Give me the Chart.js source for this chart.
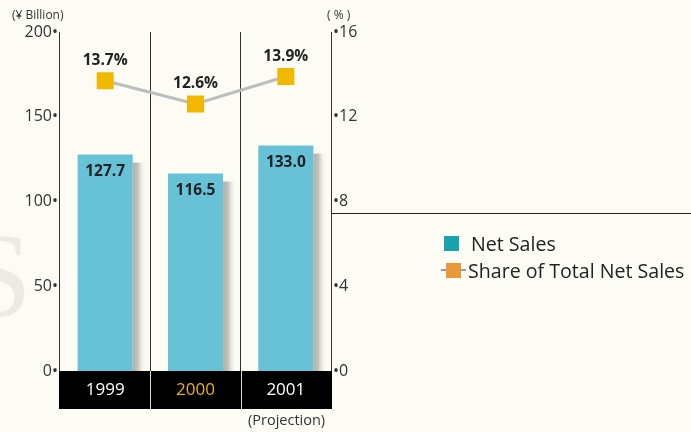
<!DOCTYPE html>
<html>
<head>
<meta charset="utf-8">
<script src="https://cdn.jsdelivr.net/npm/chart.js@4.4.0/dist/chart.umd.min.js"></script>
<style>
  body { margin: 0; background: #fcfcf5; font-family: "Open Sans", sans-serif; }
  #wrap { position: relative; width: 691px; height: 432px; overflow: hidden; }
  #wrap canvas { position: absolute; left: 0; top: 0; }
  .txt { position: absolute; color: #333; white-space: nowrap; }
  .legend { position: absolute; left: 441px; top: 230px; font-size: 19.6px; color: #222; }
  .legend div { position: relative; height: 27px; line-height: 27px; }
  .sw { position: absolute; top: 6px; width: 15px; height: 15px; }
</style>
</head>
<body>
<div id="wrap">
  <div class="txt" style="left:-35px;top:216px;font-family:'Liberation Serif',serif;font-size:120px;color:#ecebe3;line-height:1;">S</div>
  <canvas id="chart" width="691" height="432"></canvas>
  <div class="txt" style="left:12px;top:6px;font-size:12px;">(¥ Billion)</div>
  <div class="txt" style="left:327px;top:6px;font-size:12px;">( % )</div>
  <div class="txt" style="left:248px;top:410px;font-size:14.5px;">(Projection)</div>
  <div style="position:absolute;left:331px;top:213px;width:360px;height:1px;background:#222;"></div>
  <div class="legend">
    <div style="padding-left:30px;"><span class="sw" style="left:3px;background:#1ba3ad;"></span>Net Sales</div>
    <div style="padding-left:27px;"><span style="position:absolute;left:0;top:12px;width:25px;height:2px;background:#999;"></span><span class="sw" style="left:5px;background:#ea963a;"></span>Share of Total Net Sales</div>
  </div>
</div>
<script>
const years = ["1999", "2000", "2001"];
const netSales = [127.7, 116.5, 133.0];
const shareOfTotal = [13.7, 12.6, 13.9];
const yearColors = ["#ffffff", "#e9b400", "#ffffff"];

// black band under the plot, value labels and bar shadows
const decor = {
  id: "decor",
  beforeDatasetsDraw(chart) {
    const { ctx, chartArea } = chart;
    const bars = chart.getDatasetMeta(1).data;
    ctx.save();
    bars.forEach(b => {
      const x = b.x + b.width / 2;
      const g = ctx.createLinearGradient(x, 0, x + 13, 0);
      g.addColorStop(0, "#b0afaa");
      g.addColorStop(0.4, "#c4c3bd");
      g.addColorStop(1, "rgba(252,252,245,0)");
      ctx.fillStyle = g;
      ctx.fillRect(x, b.y + 8, 13, chartArea.bottom - b.y - 8);
    });
    ctx.restore();
  },
  afterDraw(chart) {
    const { ctx, chartArea, scales } = chart;
    const xs = scales.x;
    ctx.save();
    ctx.fillStyle = "#000";
    ctx.fillRect(chartArea.left - 1, chartArea.bottom, chartArea.right - chartArea.left + 2, 38);
    ctx.strokeStyle = "#ddd";
    ctx.lineWidth = 1;
    for (let i = 1; i < years.length; i++) {
      const bx = Math.round((xs.getPixelForValue(i - 1) + xs.getPixelForValue(i)) / 2) + 0.5;
      ctx.beginPath();
      ctx.moveTo(bx, chartArea.bottom);
      ctx.lineTo(bx, chartArea.bottom + 38);
      ctx.stroke();
    }
    ctx.font = "17px 'Open Sans'";
    ctx.textAlign = "center";
    ctx.textBaseline = "middle";
    years.forEach((y, i) => {
      ctx.fillStyle = yearColors[i];
      ctx.fillText(y, xs.getPixelForValue(i), chartArea.bottom + 19);
    });
    ctx.fillStyle = "#222";
    ctx.font = "bold 15.5px 'Open Sans'";
    chart.getDatasetMeta(1).data.forEach((b, i) => {
      ctx.fillText(netSales[i].toFixed(1), b.x, b.y + 17);
    });
    chart.getDatasetMeta(0).data.forEach((p, i) => {
      ctx.fillText(shareOfTotal[i].toFixed(1) + "%", p.x, p.y - 20);
    });
    ctx.restore();
  }
};

new Chart(document.getElementById("chart"), {
  data: {
    labels: years,
    datasets: [
      {
        type: "line",
        label: "Share of Total Net Sales",
        data: shareOfTotal,
        yAxisID: "y2",
        borderColor: "#bdbdbd",
        borderWidth: 3,
        pointStyle: "rect",
        pointRadius: 12,
        pointBackgroundColor: "#f2b800",
        pointBorderWidth: 0,
        order: 0
      },
      {
        type: "bar",
        label: "Net Sales",
        data: netSales,
        yAxisID: "y",
        backgroundColor: "#67c2d8",
        categoryPercentage: 1,
        barPercentage: 0.61,
        order: 1
      }
    ]
  },
  options: {
    responsive: false,
    animation: false,
    layout: { padding: { top: 32, right: 330, left: 0, bottom: 0 } },
    plugins: { legend: { display: false }, tooltip: { enabled: false } },
    scales: {
      x: {
        offset: true,
        grid: { offset: true, color: "#333", lineWidth: 1, drawTicks: false },
        border: { display: false },
        ticks: { display: false },
        afterFit(s) { s.height = 61; }
      },
      y: {
        position: "left",
        min: 0, max: 200,
        ticks: { stepSize: 50, padding: 2, color: "#333", font: { family: "Open Sans", size: 16 },
          callback: v => v + "•" },
        grid: { display: false, drawTicks: false },
        border: { display: false },
        afterFit(s) { s.width = 60; }
      },
      y2: {
        position: "right",
        min: 0, max: 16,
        ticks: { stepSize: 4, padding: 2, color: "#333", font: { family: "Open Sans", size: 16 },
          callback: v => "•" + v },
        grid: { display: false, drawTicks: false },
        border: { display: false },
        afterFit(s) { s.width = 30; }
      }
    }
  },
  plugins: [decor]
});
</script>
</body>
</html>
